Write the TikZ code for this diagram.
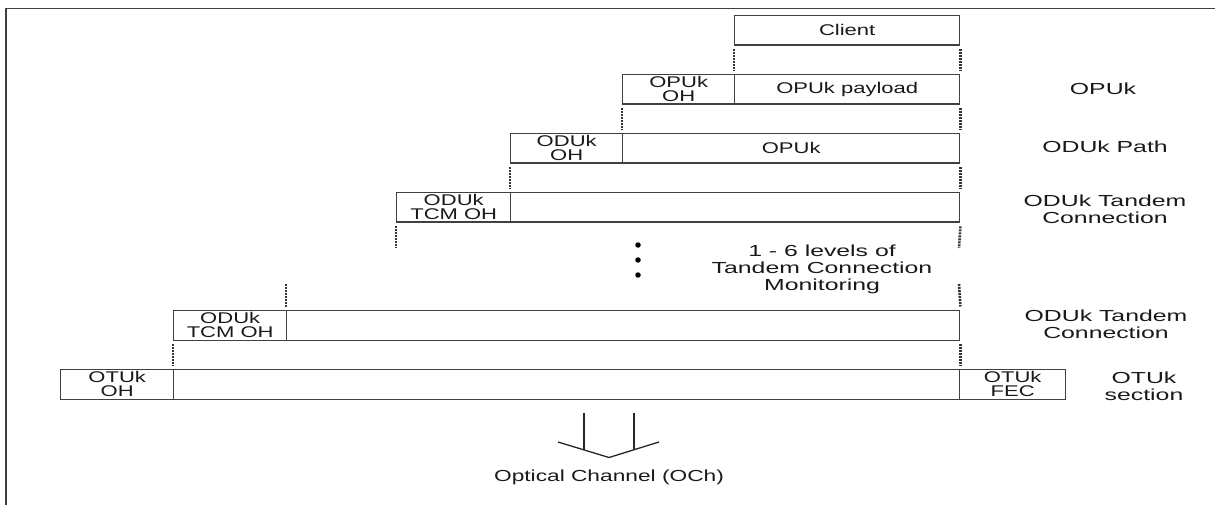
\documentclass[tikz,border=0pt]{standalone}
\usepackage{fontspec}
\setmainfont[FakeStretch=1.42]{Liberation Sans}
\newfontfamily\lblfont[FakeStretch=1.55]{Liberation Sans}
\begin{document}
\begin{tikzpicture}[x=1pt,y=-1pt,
  box/.style={draw=black!75, line width=1.4pt, inner sep=0pt, anchor=north west,
    minimum height=29.5pt, align=center, font=\fontsize{15.5}{16}\selectfont, text=black!90},
  oh/.style={box, font=\fontsize{15.5}{14}\selectfont},
  vdots/.style={draw=black!80, line width=2.6pt, dash pattern=on 2pt off 1pt},
  lbl/.style={font=\lblfont\fontsize{16}{17}\selectfont, align=center, text=black!90},
  frame/.style={draw=black!75, line width=1.2pt},
  dot/.style={circle, fill=black, inner sep=0pt, minimum size=5.5pt},
  arr/.style={draw=black!85, line width=1.3pt}]
\useasboundingbox (0,0) rectangle (1215,505);
\draw[frame] (6,505) -- (6,8.5) -- (1215,8.5);

% rows
\node[box, minimum width=225pt] (client) at (734,15) {Client};

\node[oh, minimum width=112pt] (opoh) at (622,74) {OPUk\\OH};
\node[box, minimum width=225pt] (pay) at (734,74) {OPUk payload};

\node[oh, minimum width=112pt] (oduoh) at (510,133) {ODUk\\OH};
\node[box, minimum width=337pt] (opuk) at (622,133) {OPUk};

\node[oh, minimum width=114pt] (tcmaoh) at (396,192) {ODUk\\TCM OH};
\node[box, minimum width=449pt] (tcma) at (510,192) {};

\node[oh, minimum width=113pt] (tcmboh) at (173,310) {ODUk\\TCM OH};
\node[box, minimum width=673pt] (tcmb) at (286,310) {};

\node[oh, minimum width=113pt] (otuoh) at (60,369) {OTUk\\OH};
\node[box, minimum width=786pt] (otu) at (173,369) {};
\node[oh, minimum width=106pt] (fec) at (959,369) {OTUk\\FEC};

% dotted connectors
\draw[vdots] ([yshift=-3.5pt]client.south west) -- ([yshift=3.5pt]pay.north west);
\draw[vdots] ([yshift=-3.5pt]client.south east) -- ([yshift=3.5pt]pay.north east);
\draw[vdots] ([yshift=-3.5pt]opoh.south west) -- ([yshift=3.5pt]opuk.north west);
\draw[vdots] ([yshift=-3.5pt]pay.south east) -- ([yshift=3.5pt]opuk.north east);
\draw[vdots] ([yshift=-3.5pt]oduoh.south west) -- ([yshift=3.5pt]tcma.north west);
\draw[vdots] ([yshift=-3.5pt]opuk.south east) -- ([yshift=3.5pt]tcma.north east);
\coordinate (ea) at (396,248);
\coordinate (eb) at (959,248);
\coordinate (sa) at (286,284);
\coordinate (sb) at (959,284);
\draw[vdots] ([yshift=-3.5pt]tcmaoh.south west) -- (ea);
\draw[vdots] ([yshift=-3.5pt]tcma.south east) -- (eb);
\draw[vdots] (sa) -- ([yshift=3.5pt]tcmb.north west);
\draw[vdots] (sb) -- ([yshift=3.5pt]tcmb.north east);
\draw[vdots] ([yshift=-3.5pt]tcmboh.south west) -- ([yshift=3.5pt]otu.north west);
\draw[vdots] ([yshift=-3.5pt]tcmb.south east) -- ([yshift=3.5pt]otu.north east);

% vertical ellipsis and text
\node[dot] (d1) at (638,245) {};
\node[dot] (d2) at (638,260) {};
\node[dot] (d3) at (638,275) {};
\node[lbl] (levels) at (822,269) {1 - 6 levels of\\Tandem Connection\\Monitoring};

% right labels
\node[lbl] (lopu) at (1103,88.5) {OPUk};
\node[lbl] (lpath) at (1105,146.5) {ODUk Path};
\node[lbl] (ltcma) at (1105,209) {ODUk Tandem\\Connection};
\node[lbl] (ltcmb) at (1106,324) {ODUk Tandem\\Connection};
\node[lbl] (lotu) at (1144,386) {OTUk\\section};

% output arrow
\coordinate (s1) at (584,413);
\coordinate (s1b) at (584,449.6);
\coordinate (s2) at (634,413);
\coordinate (s2b) at (634,449.6);
\coordinate (vl) at (558,442);
\coordinate (vm) at (609,457.5);
\coordinate (vr) at (659,442);
\draw[arr] (s1) -- (s1b);
\draw[arr] (s2) -- (s2b);
\draw[arr] (vl) -- (vm) -- (vr);
\node[box, draw=none, anchor=center, minimum height=0pt, font=\fontsize{16}{17}\selectfont] (och) at (609,477) {Optical Channel (OCh)};
\end{tikzpicture}
\end{document}
